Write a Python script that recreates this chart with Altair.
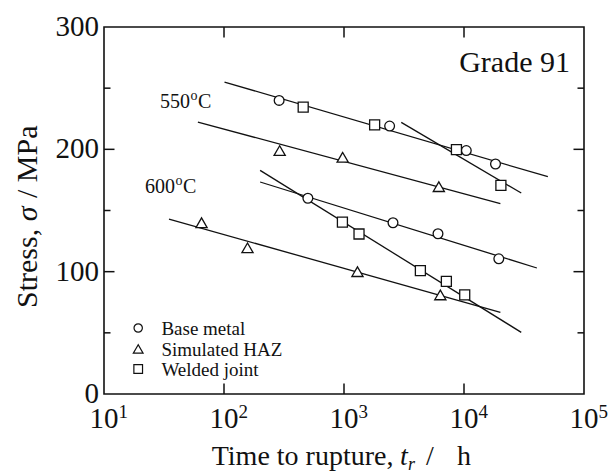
import altair as alt
import pandas as pd

SERIF = "Liberation Serif"

# ---------------- data ----------------
series_names = ["Base metal", "Simulated HAZ", "Welded joint"]
series_shapes = ["circle", "triangle-up", "square"]

bm_t = [288, 2400, 10450, 18300, 500, 2560, 6070, 19500]
bm_s = [240, 219, 199, 188, 160, 140, 131, 110.5]

haz_t = [291, 975, 6170, 65, 157, 1295, 6350]
haz_s = [199, 193.5, 169.5, 140, 119.5, 100, 81]

wj_t = [457, 1800, 8650, 20300, 970, 1334, 4330, 7130, 10140]
wj_s = [234.5, 220, 199.7, 170.5, 140.5, 130.8, 100.8, 92, 81]

# fitted lines (two end points each)
line_id = ["550 BM/WJ", "550 BM/WJ", "550 WJ", "550 WJ", "550 HAZ", "550 HAZ",
           "600 BM", "600 BM", "600 WJ", "600 WJ", "600 HAZ", "600 HAZ"]
line_t = [101, 50000, 3000, 30000, 60.6, 20100, 200, 40500, 200, 30000, 34.8, 20100]
line_s = [255, 177.6, 222, 164.3, 222.3, 155.6, 173.3, 103, 182.8, 50.4, 143, 66.7]

x_decades = [10, 100, 1000, 10000, 100000]
x_exps = ["1", "2", "3", "4", "5"]
x_inner_ticks = [100, 1000, 10000]
y_labels = [0, 100, 200, 300]
y_major = [100, 200]
y_minor = [50, 150, 250]

# ---------------- tables ----------------
pts_df = pd.DataFrame({
    "type": [series_names[0]] * len(bm_t) + [series_names[1]] * len(haz_t) + [series_names[2]] * len(wj_t),
    "t": bm_t + haz_t + wj_t,
    "s": bm_s + haz_s + wj_s,
})
line_df = pd.DataFrame({"id": line_id, "t": line_t, "s": line_s})
dec_df = pd.DataFrame({"v": x_decades, "e": x_exps, "b": ["10"] * len(x_decades)})
xt_df = pd.DataFrame({"v": x_inner_ticks})
ymaj_df = pd.DataFrame({"v": y_major})
ymin_df = pd.DataFrame({"v": y_minor})
ylab_df = pd.DataFrame({"v": y_labels, "txt": [str(v) for v in y_labels]})

W, H = 480, 367
xscale = alt.Scale(type="log", domain=[10, 100000], nice=False)
yscale = alt.Scale(domain=[0, 300], nice=False, zero=False)
INK = "#111111"

lines = alt.Chart(line_df).mark_line(color=INK, strokeWidth=1.3).encode(
    x=alt.X("t:Q", scale=xscale, axis=None),
    y=alt.Y("s:Q", scale=yscale, axis=None),
    detail="id:N",
)

shape_scale = alt.Scale(domain=series_names, range=series_shapes)

def point_layer(name, size):
    return alt.Chart(pts_df).transform_filter(alt.datum.type == name).mark_point(
        filled=False, fill="white", fillOpacity=1, color=INK, stroke=INK,
        strokeWidth=1.3, opacity=1, size=size
    ).encode(
        x=alt.X("t:Q", scale=xscale, axis=None),
        y=alt.Y("s:Q", scale=yscale, axis=None),
        shape=alt.Shape("type:N", scale=shape_scale, legend=None),
    )

pts = [point_layer(series_names[0], 95), point_layer(series_names[1], 125), point_layer(series_names[2], 100)]

def rule_x(x1, x2, df):
    return alt.Chart(df).mark_rule(color=INK, strokeWidth=1.5).encode(
        y=alt.Y("v:Q", scale=yscale, axis=None), x=alt.value(x1), x2=alt.value(x2))

def rule_y(y1, y2):
    return alt.Chart(xt_df).mark_rule(color=INK, strokeWidth=1.5).encode(
        x=alt.X("v:Q", scale=xscale, axis=None), y=alt.value(y1), y2=alt.value(y2))

ticks = [
    rule_x(0, 10.5, ymaj_df), rule_x(0, 6.5, ymin_df),
    rule_x(W - 10.5, W, ymaj_df), rule_x(W - 6.5, W, ymin_df),
    rule_y(H, H - 10.5), rule_y(0, 10.5),
]

ylab = alt.Chart(ylab_df).mark_text(font=SERIF, fontSize=29, align="right", baseline="middle", color=INK).encode(
    y=alt.Y("v:Q", scale=yscale, axis=None), x=alt.value(-5), text="txt:N")
xlab = alt.Chart(dec_df).mark_text(font=SERIF, fontSize=29, align="center", baseline="alphabetic", color=INK).encode(
    x=alt.X("v:Q", scale=xscale, axis=None), y=alt.value(400.5), text="b:N")
xsup = alt.Chart(dec_df).mark_text(font=SERIF, fontSize=19, align="left", baseline="alphabetic", dx=14.5, color=INK).encode(
    x=alt.X("v:Q", scale=xscale, axis=None), y=alt.value(391), text="e:N")


def label(txt, x, y, size, align="left", angle=0, style="normal", baseline="alphabetic"):
    return alt.Chart(pd.DataFrame({"txt": [txt]})).mark_text(
        font=SERIF, fontSize=size, align=align, baseline=baseline, angle=angle,
        fontStyle=style, color=INK).encode(text="txt:N", x=alt.value(x), y=alt.value(y))

# legend (drawn as annotation marks)
legend_rows_y = [301, 322, 342]
legend_sizes = [70, 95, 75]
legend_layers = []
for name, shp, ly, sz in zip(series_names, series_shapes, legend_rows_y, legend_sizes):
    legend_layers.append(
        alt.Chart(pd.DataFrame({"txt": [name]})).mark_point(
            shape=shp, size=sz, filled=False, fill="white", fillOpacity=1,
            stroke=INK, color=INK, strokeWidth=1.2, opacity=1
        ).encode(x=alt.value(34.2), y=alt.value(ly))
    )
    legend_layers.append(label(name, 57.4, ly + 1, 19, baseline="middle"))

def temp_label(num, x, y):
    # "550" + superscript "o" + "C"
    return [label(num, x, y, 20), label("o", x + 30.5, y - 8.5, 14), label("C", x + 38, y, 20)]

texts = [
    label("Grade 91", 466, 44.7, 30, align="right"),
    *temp_label("550", 56, 81.3),
    *temp_label("600", 41, 166.3),
    # x title
    label("Time to rupture,", 107.7, 438.3, 28),
    label("t", 296, 438.3, 28, style="italic"),
    label("r", 304, 443, 18, style="italic"),
    label("/", 322, 438.3, 28),
    label("h", 367, 438.3, 28, align="right"),
    # y title
    label("Stress,", -67.3, 281, 30, angle=270),
    label("σ", -67.3, 194.3, 30, angle=270, style="italic"),
    label("/ MPa", -67.3, 171, 30, angle=270),
]

chart = alt.layer(lines, *ticks, *pts, ylab, xlab, xsup, *legend_layers, *texts).properties(
    width=W, height=H,
    autosize=alt.AutoSizeParams(type="none"),
    padding={"left": 104, "top": 27, "right": 26, "bottom": 79},
    background="white",
).configure_view(stroke=INK, strokeWidth=1.6)

chart.save("out.html", embed_options={"renderer": "svg", "actions": False})
